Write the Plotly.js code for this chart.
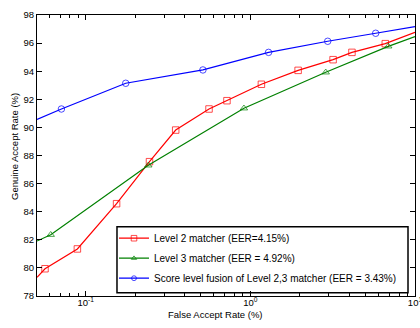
<!DOCTYPE html>
<html>
<head>
<meta charset="utf-8">
<script src="https://cdn.plot.ly/plotly-3.0.1.min.js"></script>
<style>html,body{margin:0;padding:0;background:#fff;}#chart{width:420px;height:328px;}</style>
</head>
<body>
<div id="chart"></div>
<script>
// Data (FAR in %, GAR in %)
var level2Far = [0.0506, 0.0566, 0.089, 0.154, 0.244, 0.352, 0.561, 0.721, 1.167, 1.95, 3.18, 4.14, 6.6, 10];
var level2Gar = [79.33, 79.94, 81.35, 84.57, 87.56, 89.81, 91.31, 91.9, 93.07, 94.06, 94.82, 95.34, 95.96, 96.77];
var level3Far = [0.0506, 0.0613, 0.240, 0.914, 2.87, 6.88, 10];
var level3Gar = [81.91, 82.36, 87.3, 91.36, 93.92, 95.77, 96.46];
var fusionFar = [0.0506, 0.0712, 0.175, 0.515, 1.29, 2.95, 5.77, 10];
var fusionGar = [90.57, 91.31, 93.14, 94.09, 95.34, 96.13, 96.7, 97.17];
var seriesNames = ['Level 2 matcher (EER=4.15%)', 'Level 3 matcher (EER = 4.92%)', 'Score level fusion of Level 2,3 matcher (EER = 3.43%)'];
var xTickVals = [0.1, 1, 10];
var xTickText = ['10<sup>-1</sup>', '10<sup>0</sup>', '10<sup>1</sup>'];
var yTickVals = [78, 80, 82, 84, 86, 88, 90, 92, 94, 96, 98];
var xTitle = 'False Accept Rate (%)';
var yTitle = 'Genuine Accept Rate (%)';

function sizes(arr) {
  // edge points (where the curve leaves the axes) carry no marker
  return arr.map(function (v, i) { return (i === 0 || i === arr.length - 1) ? 0 : 6.5; });
}
var font = 'Liberation Sans, Arial, Helvetica, sans-serif';
var minorVals = [];
[0.01, 0.1, 1].forEach(function (d) { for (var k = 2; k <= 9; k++) minorVals.push(d * k); });

var traces = [
  {x: level2Far, y: level2Gar, name: seriesNames[0], legendgroup: 'a', mode: 'lines+markers', type: 'scatter',
   line: {color: '#ff0000', width: 1.2},
   marker: {symbol: 'square-open', size: sizes(level2Far), color: '#ff0000', line: {width: 1, color: '#ff0000'}}},
  {x: level3Far, y: level3Gar, name: seriesNames[1], legendgroup: 'b', mode: 'lines+markers', type: 'scatter',
   line: {color: '#008000', width: 1.2},
   marker: {symbol: 'triangle-up-open', size: sizes(level3Far), color: '#008000', line: {width: 1, color: '#008000'}}},
  {x: fusionFar, y: fusionGar, name: seriesNames[2], legendgroup: 'c', mode: 'lines+markers', type: 'scatter',
   line: {color: '#0000ff', width: 1.2},
   marker: {symbol: 'circle-open', size: sizes(fusionFar), color: '#0000ff', line: {width: 1, color: '#0000ff'}}}
];

var layout = {
  width: 420, height: 328,
  margin: {l: 37, r: 5, t: 15, b: 32},
  paper_bgcolor: '#fff', plot_bgcolor: '#fff',
  font: {family: font, size: 9, color: '#000'},
  showlegend: true,
  legend: {x: 0.2037, y: 0.0117, xanchor: 'left', yanchor: 'bottom',
           bgcolor: 'rgba(0,0,0,0)', borderwidth: 0, font: {family: font, size: 10, color: '#000'},
           traceorder: 'grouped', tracegroupgap: 1},
  xaxis: {type: 'log', range: [Math.log10(0.0506), 1], showgrid: false, zeroline: false,
          showline: true, linecolor: '#000', linewidth: 1, mirror: 'ticks',
          ticks: 'inside', ticklen: 5, tickcolor: '#000', tickwidth: 1,
          tickvals: xTickVals, ticktext: xTickText, ticklabeloverflow: 'allow', ticklabelstandoff: -2,
          tickfont: {family: font, size: 9.5, color: '#000'},
          minor: {tickvals: minorVals, ticks: 'inside', ticklen: 3, tickcolor: '#000', tickwidth: 1, showgrid: false}},
  yaxis: {range: [78, 98], showgrid: false, zeroline: false,
          showline: true, linecolor: '#000', linewidth: 1, mirror: 'ticks',
          ticks: 'inside', ticklen: 5, tickcolor: '#000', tickwidth: 1,
          tickvals: yTickVals, tickfont: {family: font, size: 9.5, color: '#000'}},
  annotations: [
    {text: xTitle, xref: 'paper', yref: 'paper', x: (215.7 - 37) / 378, y: -(314 - 296) / 281,
     xanchor: 'center', yanchor: 'middle', showarrow: false, font: {family: font, size: 9.5, color: '#000'}},
    {text: yTitle, xref: 'paper', yref: 'paper', x: -(37 - 14) / 378, y: (296 - 147) / 281, textangle: -90,
     xanchor: 'center', yanchor: 'middle', showarrow: false, font: {family: font, size: 9.5, color: '#000'}}
  ],
  shapes: [{type: 'rect', xref: 'paper', yref: 'paper', x0: 0.2116, x1: 0.9815, y0: 0.0117, y1: 0.2466,
            line: {color: '#000', width: 1.5}, fillcolor: '#fff', layer: 'below'}]
};

Plotly.newPlot('chart', traces, layout, {displayModeBar: false, staticPlot: true});
</script>
</body>
</html>
